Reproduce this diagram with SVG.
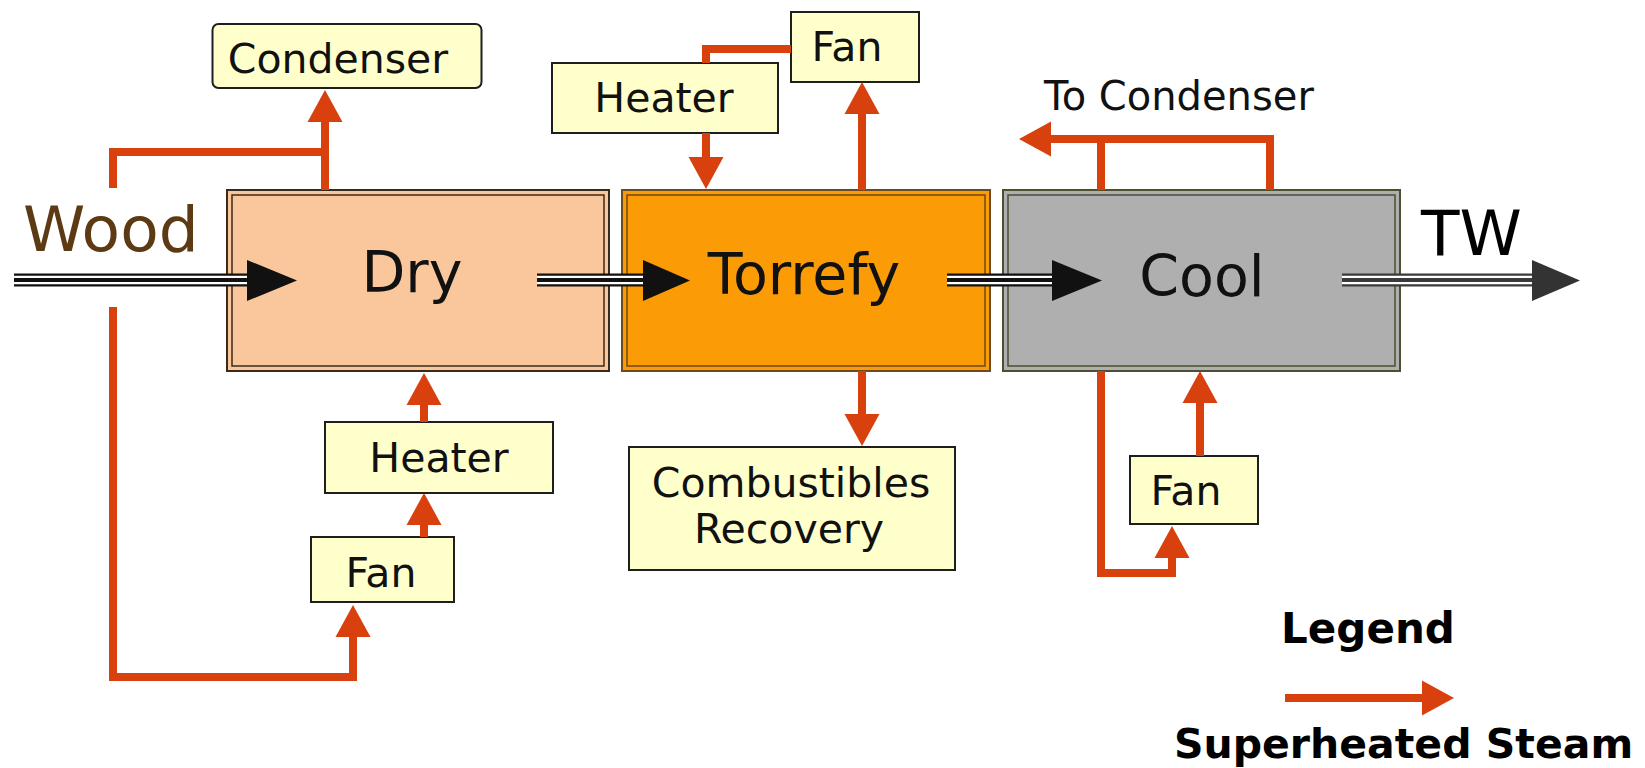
<svg xmlns="http://www.w3.org/2000/svg" width="1645" height="768" viewBox="0 0 1645 768">
<defs>
<style>
.small{fill:#ffffcc;stroke:#1e1e1e;stroke-width:2}
.lbl{font-family:"DejaVu Sans","Liberation Sans",sans-serif;font-size:41px;fill:#111;text-anchor:middle}
.big{font-family:"DejaVu Sans","Liberation Sans",sans-serif;font-size:57px;fill:#111;text-anchor:middle}
.steam{fill:none;stroke:#d8400e;stroke-width:8;stroke-linejoin:miter}
.tri1{fill:none;stroke:#111;stroke-width:13}
.tri2{fill:none;stroke:#fff;stroke-width:8.5}
.tri3{fill:none;stroke:#111;stroke-width:4}
.bold{font-family:"DejaVu Sans","Liberation Sans",sans-serif;font-weight:bold;fill:#000}
</style>
<marker id="rh" markerUnits="userSpaceOnUse" markerWidth="34" markerHeight="36" refX="1" refY="17.5" orient="auto" overflow="visible">
<path d="M0,0 L32,17.5 L0,35 Z" fill="#d8400e"/>
</marker>
</defs>
<rect width="1645" height="768" fill="#fff"/>

<g id="dry">
<rect x="227" y="190" width="382" height="181" fill="#fac69b" stroke="#3a2a1c" stroke-width="2"/>
<rect x="232" y="195" width="372" height="171" fill="#fac69b" stroke="#3a2a1c" stroke-width="1.5"/>
<text class="big" x="412" y="292">Dry</text>
</g>
<g id="torrefy">
<rect x="622" y="190" width="368" height="181" fill="#fb9b06" stroke="#6e4a1e" stroke-width="2"/>
<rect x="627" y="195" width="358" height="171" fill="#fb9b06" stroke="#6e4a1e" stroke-width="1.5"/>
<text class="big" x="804" y="294">Torrefy</text>
</g>
<g id="cool">
<rect x="1003" y="190" width="397" height="181" fill="#afafaf" stroke="#4e4e30" stroke-width="2"/>
<rect x="1008" y="195" width="387" height="171" fill="#afafaf" stroke="#4e4e30" stroke-width="1.5"/>
<text class="big" x="1202" y="296">Cool</text>
</g>

<g id="condenser">
<rect class="small" x="212.5" y="24" width="269" height="64" rx="6"/>
<text class="lbl" x="338" y="73">Condenser</text>
</g>
<g id="fan-top">
<rect class="small" x="791" y="12" width="128" height="70"/>
<text class="lbl" x="847" y="61">Fan</text>
</g>
<g id="heater-top">
<rect class="small" x="552" y="63" width="226" height="70"/>
<text class="lbl" x="664" y="112">Heater</text>
</g>
<g id="heater-bottom">
<rect class="small" x="325" y="422" width="228" height="71"/>
<text class="lbl" x="439" y="472">Heater</text>
</g>
<g id="fan-left">
<rect class="small" x="311" y="537" width="143" height="65"/>
<text class="lbl" x="381" y="587">Fan</text>
</g>
<g id="combustibles">
<rect class="small" x="629" y="447" width="326" height="123"/>
<text class="lbl" x="791" y="497">Combustibles</text>
<text class="lbl" x="789" y="543">Recovery</text>
</g>
<g id="fan-right">
<rect class="small" x="1130" y="456" width="128" height="68"/>
<text class="lbl" x="1186" y="505">Fan</text>
</g>

<g id="labels">
<text x="23" y="251" font-family="DejaVu Sans, Liberation Sans, sans-serif" font-size="63" fill="#5c3a14">Wood</text>
<text x="1421" y="255" font-family="DejaVu Sans, Liberation Sans, sans-serif" font-size="63" fill="#000">TW</text>
<text x="1044" y="110" font-family="DejaVu Sans, Liberation Sans, sans-serif" font-size="40" fill="#111">To Condenser</text>
</g>

<g id="connectors">
<!-- material flow triple lines -->
<path class="tri1" d="M14,280 H250 M537,280 H646 M947,280 H1055"/>
<path class="tri2" d="M14,280 H250 M537,280 H646 M947,280 H1055"/>
<path class="tri3" d="M14,280 H250 M537,280 H646 M947,280 H1055"/>
<polygon points="247,260 297,280.5 247,301" fill="#111"/>
<polygon points="643,260 690,280.5 643,301" fill="#111"/>
<polygon points="1052,260 1102,280.5 1052,301" fill="#111"/>
<path d="M1342,280 H1535" fill="none" stroke="#3a3a3a" stroke-width="13"/>
<path d="M1342,280 H1535" fill="none" stroke="#fff" stroke-width="8.5"/>
<path d="M1342,280 H1535" fill="none" stroke="#3a3a3a" stroke-width="4"/>
<polygon points="1532,260 1580,280.5 1532,301" fill="#333"/>

<!-- superheated steam -->
<path class="steam" d="M325,190 V121" marker-end="url(#rh)"/>
<path class="steam" d="M113,188 V152 H325"/>
<path class="steam" d="M113,307 V677 H353 V636" marker-end="url(#rh)"/>
<path class="steam" d="M424,537 V524" marker-end="url(#rh)"/>
<path class="steam" d="M424,422 V404" marker-end="url(#rh)"/>
<path class="steam" d="M791,49 H706 V63"/>
<path class="steam" d="M706,133 V158" marker-end="url(#rh)"/>
<path class="steam" d="M862,190 V113" marker-end="url(#rh)"/>
<path class="steam" d="M862,371 V415" marker-end="url(#rh)"/>
<path class="steam" d="M1101,190 V139"/>
<path class="steam" d="M1270,190 V139 H1050" marker-end="url(#rh)"/>
<path class="steam" d="M1101,371 V573 H1172 V557" marker-end="url(#rh)"/>
<path class="steam" d="M1200,456 V402" marker-end="url(#rh)"/>
</g>

<g id="legend">
<text class="bold" x="1368" y="643" font-size="42" text-anchor="middle">Legend</text>
<path class="steam" d="M1285,698 H1423" marker-end="url(#rh)"/>
<text class="bold" x="1174" y="758" font-size="41">Superheated Steam</text>
</g>
</svg>
